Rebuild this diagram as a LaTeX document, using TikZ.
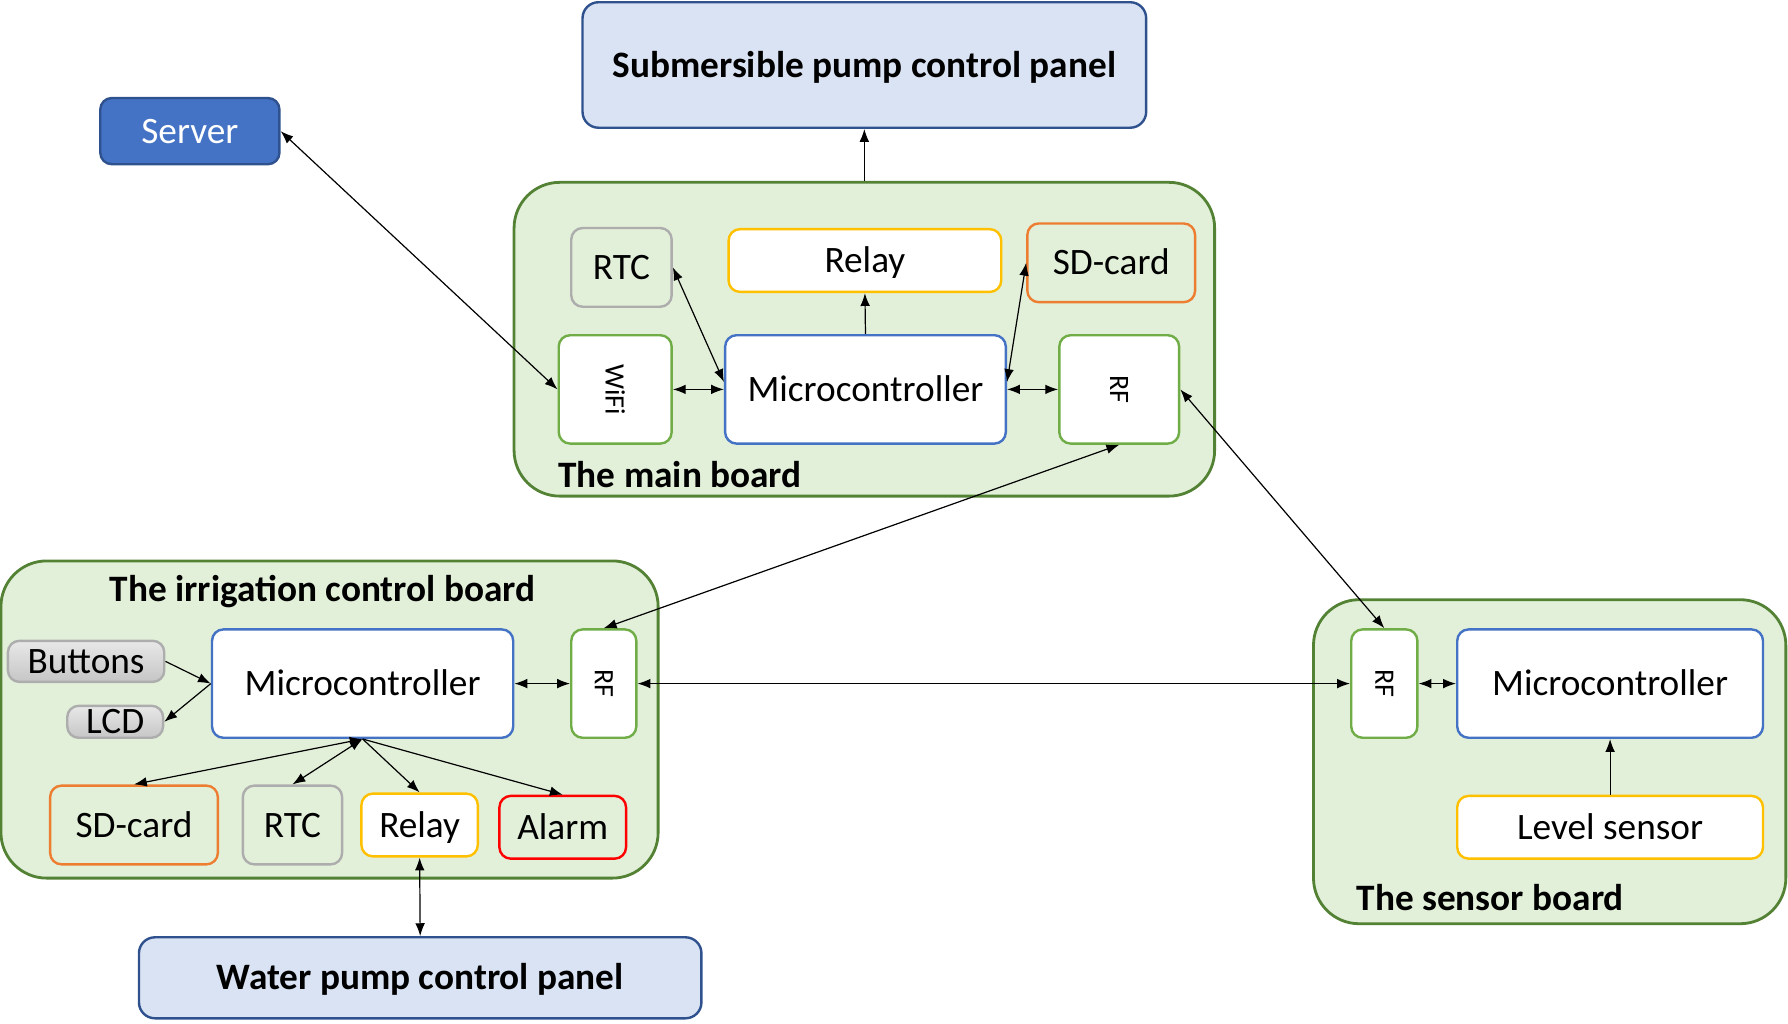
\documentclass[tikz,border=0pt]{standalone}
\usepackage{fontspec}
\setmainfont{Carlito}
\usetikzlibrary{arrows.meta}

\definecolor{boardfill}{HTML}{E2F0D9}
\definecolor{boardline}{HTML}{548235}
\definecolor{panelfill}{HTML}{DAE3F3}
\definecolor{panelline}{HTML}{2F528F}
\definecolor{mcublue}{HTML}{4472C4}
\definecolor{rfgreen}{HTML}{70AD47}
\definecolor{relayyellow}{HTML}{FFC000}
\definecolor{sdorange}{HTML}{ED7D31}
\definecolor{rtcgray}{HTML}{ADADAD}
\definecolor{alarmred}{HTML}{FF0000}

\newcommand{\partfont}{\fontsize{9.3}{11}\selectfont}
\newcommand{\rffont}{\fontsize{7}{8}\selectfont}

\tikzstyle{board}=[draw=boardline,fill=boardfill,line width=0.7pt,rounded corners=0.4cm,inner sep=0pt]
\tikzstyle{board label}=[font=\partfont\bfseries,inner sep=0pt]
\tikzstyle{part}=[draw,line width=0.6pt,rounded corners=0.1cm,inner sep=0pt,font=\partfont]
\tikzstyle{caps}=[text height=6pt,text depth=0pt]
\tikzstyle{mcu}=[part,caps,draw=mcublue,fill=white]
\tikzstyle{rf}=[part,draw=rfgreen,fill=white,font=\rffont]
\tikzstyle{relay}=[part,caps,draw=relayyellow,fill=white]
\tikzstyle{sdcard}=[part,caps,draw=sdorange]
\tikzstyle{rtc}=[part,caps,draw=rtcgray]
\tikzstyle{alarm}=[part,caps,draw=alarmred]
\tikzstyle{io}=[part,caps,draw=rtcgray,top color=gray!18,bottom color=gray!45]
\tikzstyle{panel}=[part,caps,draw=panelline,fill=panelfill,rounded corners=0.14cm,font=\partfont\bfseries]
\tikzstyle{edge}=[draw,line width=0.3pt,-{Latex[length=3.2pt,width=2.4pt]}]
\tikzstyle{both edge}=[edge,{Latex[length=3.2pt,width=2.4pt]}-{Latex[length=3.2pt,width=2.4pt]}]

\begin{document}
\begin{tikzpicture}[x=0.01cm,y=-0.01cm]
     \useasboundingbox (0,0) rectangle (1568,898);
     % Outside blocks
     \node[panel,minimum width=4.94cm,minimum height=1.10cm] (subpanel) at (758,57) {Submersible pump control panel};
     \node[part,caps,draw=panelline,fill=mcublue,text=white,minimum width=1.57cm,minimum height=0.58cm] (server) at (166.5,115) {Server};
     \node[panel,minimum width=4.93cm,minimum height=0.71cm] (wpump) at (368.5,857.5) {Water pump control panel};

     % The main board
     \node[board,minimum width=6.14cm,minimum height=2.75cm] (mainboard) at (758,297.5) {};
     \node[board label,anchor=west] at (489,416) {The main board};
     \node[rtc,minimum width=0.88cm,minimum height=0.69cm] (mrtc) at (545,234.5) {RTC};
     \node[relay,minimum width=2.39cm,minimum height=0.55cm] (mrelay) at (758.5,228.5) {Relay};
     \node[sdcard,minimum width=1.47cm,minimum height=0.69cm] (msd) at (974.5,230.5) {SD-card};
     \node[rf,minimum width=0.99cm,minimum height=0.95cm] (wifi) at (539.5,341.5) {\rotatebox{-90}{WiFi}};
     \node[mcu,minimum width=2.46cm,minimum height=0.95cm] (mmcu) at (759,341.5) {Microcontroller};
     \node[rf,minimum width=1.05cm,minimum height=0.95cm] (mrf) at (981.5,341.5) {\rotatebox{-90}{RF}};

     % The irrigation control board
     \node[board,minimum width=5.76cm,minimum height=2.78cm] (irrboard) at (289,631) {};
     \node[board label] at (283,519) {The irrigation control board};
     \node[io,minimum width=1.37cm,minimum height=0.36cm] (buttons) at (75.5,580) {Buttons};
     \node[io,minimum width=0.84cm,minimum height=0.28cm] (lcd) at (101,633) {LCD};
     \node[mcu,minimum width=2.64cm,minimum height=0.95cm] (imcu) at (318,599.5) {Microcontroller};
     \node[rf,minimum width=0.57cm,minimum height=0.95cm] (irf) at (529.5,599.5) {\rotatebox{-90}{RF}};
     \node[sdcard,minimum width=1.47cm,minimum height=0.69cm] (isd) at (117.5,723.5) {SD-card};
     \node[rtc,minimum width=0.87cm,minimum height=0.69cm] (irtc) at (256.5,723.5) {RTC};
     \node[relay,minimum width=1.02cm,minimum height=0.55cm] (irelay) at (368,723.5) {Relay};
     \node[alarm,minimum width=1.11cm,minimum height=0.55cm] (alarm) at (493.5,725.5) {Alarm};

     % The sensor board
     \node[board,minimum width=4.14cm,minimum height=2.84cm] (sensboard) at (1359,668) {};
     \node[board label,anchor=west] at (1189,787) {The sensor board};
     \node[rf,minimum width=0.58cm,minimum height=0.95cm] (srf) at (1214,599.5) {\rotatebox{-90}{RF}};
     \node[mcu,minimum width=2.68cm,minimum height=0.95cm] (smcu) at (1412,599.5) {Microcontroller};
     \node[relay,minimum width=2.68cm,minimum height=0.55cm] (level) at (1412,725.5) {Level sensor};

     % One-way connections
     \foreach \source/\dest in {mainboard.north/subpanel.south, mmcu.north/mrelay.south,
       buttons.east/imcu.west, imcu.west/lcd.east, imcu.south/irelay.north,
       imcu.south/alarm.north, level.north/smcu.south}
     \path[edge] (\source) -- (\dest);

     % Two-way connections
     \foreach \source/\dest in {server.east/wifi.west, wifi.east/mmcu.west,
       mrtc.east/mmcu.177, msd.west/mmcu.3, mmcu.east/mrf.west,
       mrf.south/irf.north, mrf.east/srf.north, irf.east/srf.west,
       imcu.east/irf.west, imcu.south/isd.north, imcu.south/irtc.north,
       irelay.south/wpump.north, srf.east/smcu.west}
     \path[both edge] (\source) -- (\dest);
\end{tikzpicture}
\end{document}
